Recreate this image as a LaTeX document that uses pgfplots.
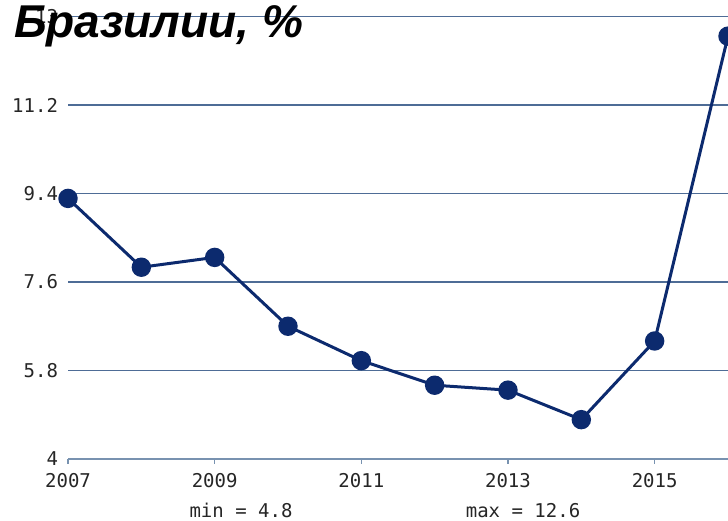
\documentclass[border=0pt]{standalone}
\usepackage{fontspec}
\usepackage{pgfplots}
\pgfplotsset{compat=1.18}
\newfontfamily\arialfont{Liberation Sans}
\newfontfamily\monofont{DejaVu Sans Mono}
\definecolor{navy}{RGB}{12,42,110}
\definecolor{gridblue}{RGB}{78,108,150}
\definecolor{axisblue}{RGB}{120,146,176}

\begin{document}
\begin{tikzpicture}
\begin{axis}[name=ax,
    scale only axis,
    width=330pt, height=221.25pt,
    xmin=2007, xmax=2016,
    ymin=4, ymax=13,
    xtick={2007,2009,2011,2013,2015},
    ytick={4,5.8,7.6,9.4,11.2,13},
    axis lines*=left,
    x axis line style={color=axisblue, line width=1.1pt},
    y axis line style={draw=none},
    ytick style={draw=none},
    xtick style={color=axisblue, line width=0.6pt},
    tick align=outside,
    major tick length=2.5pt,
    ymajorgrids,
    grid style={color=gridblue, line width=0.6pt},
    tick label style={font=\monofont\fontsize{9.5}{10}\selectfont, text=black!85},
    /pgf/number format/assume math mode=true,
    /pgf/number format/1000 sep={},
    yticklabel style={xshift=1pt},
    xticklabel style={yshift=-1pt},
    clip marker paths=false,
]
\addplot[color=navy, line width=1.5pt, mark=*, mark size=4.1pt,
         mark options={fill=navy, draw=navy}] coordinates {
    (2007,9.3) (2008,7.9) (2009,8.1) (2010,6.7) (2011,6.0)
    (2012,5.5) (2013,5.4) (2014,4.8) (2015,6.4) (2016,12.6)
};
\end{axis}
\node[anchor=base west, font=\arialfont\bfseries\itshape\fontsize{23}{26}\selectfont]
    at ([xshift=-30.5pt,yshift=-10.75pt]ax.north west) {Бразилии, \%};
\node[anchor=base, font=\monofont\fontsize{9.5}{10}\selectfont, text=black!85]
    at ([xshift=86.5pt,yshift=-29.5pt]ax.south west) {min = 4.8};
\node[anchor=base, font=\monofont\fontsize{9.5}{10}\selectfont, text=black!85]
    at ([xshift=227.5pt,yshift=-29.5pt]ax.south west) {max = 12.6};
\pgfresetboundingbox
\path[use as bounding box] ([xshift=-34pt,yshift=-31pt]ax.south west)
    rectangle ([yshift=8.25pt]ax.north east);
\end{tikzpicture}
\end{document}
